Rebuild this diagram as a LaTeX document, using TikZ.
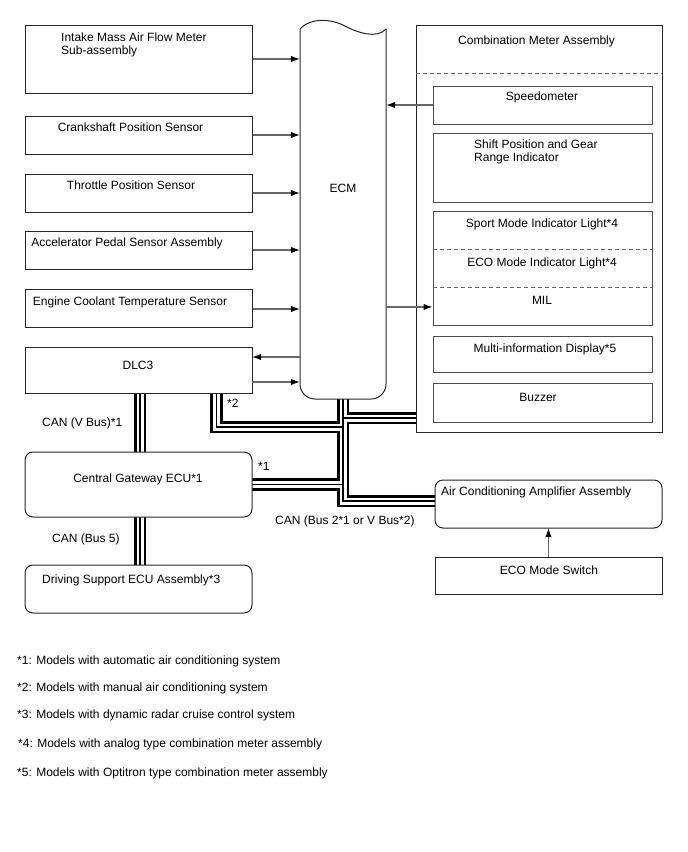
\documentclass[tikz,border=0pt]{standalone}
\usepackage{fontspec}
\setmainfont{Liberation Sans}
\usetikzlibrary{arrows.meta}
\newcommand\buslines[1]{%
  \draw[#1] ([xshift=1.5pt]dlc.south) -- ([xshift=1.5pt]dlc.south |- gw.north);
  \draw[#1] ([xshift=1.5pt]gw.south) -- ([xshift=1.5pt]gw.south |- ds.north);
  \draw[#1] ([xshift=78pt]dlc.south) |- (jdlc);
  \draw[#1] (ecm.south) |- (jac);
  \draw[#1] (gw.east) -- (gw.east -| ecm.south);
  \draw[#1] (jmeter) -- (jmeter -| meter.west);
}
\begin{document}
\begin{tikzpicture}[x=1pt,y=-1pt,
  font=\fontsize{12pt}{14pt}\selectfont,
  box/.style={draw=black!85, line width=1pt, inner sep=0pt, fill=white},
  rbox/.style={box, rounded corners=8pt},
  ibox/.style={draw=black!70, line width=1pt, inner sep=0pt},
  txt/.style={inner sep=0pt, text height=8.6pt, text depth=0pt},
  ltxt/.style={txt, anchor=west},
  arr/.style={draw=black!60, line width=1.1pt, -{Latex[length=9pt,width=6.5pt,color=black]}},
  dsh/.style={draw=black!60, line width=0.9pt, dash pattern=on 4pt off 3pt},
  busA/.style={line width=12.5pt, black, line join=miter},
  busB/.style={line width=7pt, white, line join=miter},
  busC/.style={line width=1.3pt, black, line join=miter}]
\useasboundingbox[fill=white] (0,0) rectangle (688,852);

% invisible anchor nodes
\node[inner sep=0pt, minimum width=86pt, minimum height=371pt] (ecm) at (343,213.5) {};
\node[inner sep=0pt, minimum width=227pt, minimum height=46pt] (dlc) at (138.5,370) {};
\node[inner sep=0pt, minimum width=227pt, minimum height=65pt] (gw) at (138.5,484.5) {};
\node[inner sep=0pt, minimum width=227pt, minimum height=48pt] (ds) at (138.5,589) {};
\node[inner sep=0pt, minimum width=246pt, minimum height=407pt] (meter) at (539,228.5) {};
\node[inner sep=0pt, minimum width=227pt, minimum height=48pt] (ac) at (548.5,504) {};
\coordinate (jdlc) at (343,427);
\coordinate (jac) at (435,501);
\coordinate (jmeter) at (343,418);

% bus cables
\buslines{busA}
\buslines{busB}
\buslines{busC}

% left boxes
\node[box, minimum width=227pt, minimum height=68pt] (intake) at (138.5,59) {};
\node[box, minimum width=227pt, minimum height=38pt] (crank) at (138.5,135) {};
\node[box, minimum width=227pt, minimum height=38pt] (throttle) at (138.5,193) {};
\node[box, minimum width=227pt, minimum height=38pt] (accel) at (138.5,250) {};
\node[box, minimum width=227pt, minimum height=38pt] (cool) at (138.5,308) {};
\node[box, minimum width=227pt, minimum height=46pt] at (dlc) {};
\node[rbox, minimum width=227pt, minimum height=65pt] at (gw) {};
\node[rbox, minimum width=227pt, minimum height=48pt] at (ds) {};

\node[ltxt] at (61,37) {Intake Mass Air Flow Meter};
\node[ltxt] at (61,50) {Sub-assembly};
\node[txt] at (130.5,127) {Crankshaft Position Sensor};
\node[txt] at (131,185) {Throttle Position Sensor};
\node[txt] at (127,242) {Accelerator Pedal Sensor Assembly};
\node[txt] at (130,301) {Engine Coolant Temperature Sensor};
\node[txt] at (138,365) {DLC3};
\node[txt] at (138,478) {Central Gateway ECU*1};
\node[ltxt] at (42,579) {Driving Support ECU Assembly*3};

% ECM
\draw[draw=black!85, line width=1pt] (300,29) .. controls (311,17) and (332,19) .. (345,26) .. controls (358,33) and (377,39) .. (386,29);
\draw[draw=black!85, line width=1pt, rounded corners=15pt] (386,29) -- (386,399) -- (300,399) -- (300,29);
\node[txt] at (343,188) {ECM};

% combination meter
\node[box, fill=none, minimum width=246pt, minimum height=407pt] at (meter) {};
\draw[dsh] (meter.west |- 0,73) -- (meter.east |- 0,73);
\node[ltxt] at (458,40) {Combination Meter Assembly};
\node[ibox, minimum width=219pt, minimum height=38pt] (speedo) at (542.5,105) {};
\node[ibox, minimum width=219pt, minimum height=69pt] (shift) at (542.5,167.5) {};
\node[ibox, minimum width=219pt, minimum height=114pt] (sport) at (542.5,268) {};
\node[ibox, minimum width=219pt, minimum height=36pt] (multi) at (542.5,354) {};
\node[ibox, minimum width=219pt, minimum height=39pt] (buzzer) at (542.5,402.5) {};
\draw[dsh] ([yshift=19pt]sport.west) -- ([yshift=19pt]sport.east);
\draw[dsh] ([yshift=-19pt]sport.west) -- ([yshift=-19pt]sport.east);
\node[txt] at (542,96) {Speedometer};
\node[ltxt] at (474,144) {Shift Position and Gear};
\node[ltxt] at (474,157) {Range Indicator};
\node[txt] at (542,223) {Sport Mode Indicator Light*4};
\node[txt] at (542,262) {ECO Mode Indicator Light*4};
\node[txt] at (542,300) {MIL};
\node[txt] at (545,348) {Multi-information Display*5};
\node[txt] at (538,397) {Buzzer};

% AC amplifier & ECO switch
\node[rbox, minimum width=227pt, minimum height=48pt] at (ac) {};
\node[ltxt] at (441,491) {Air Conditioning Amplifier Assembly};
\node[box, minimum width=227pt, minimum height=37pt] (eco) at (548.5,575.5) {};
\node[txt] at (549,570) {ECO Mode Switch};

% arrows
\draw[arr] (intake.east) -- (intake.east -| ecm.west);
\draw[arr] (crank.east) -- (crank.east -| ecm.west);
\draw[arr] (throttle.east) -- (throttle.east -| ecm.west);
\draw[arr] (accel.east) -- (accel.east -| ecm.west);
\draw[arr] ([yshift=-1pt]cool.east) -- ([yshift=-1pt]cool.east -| ecm.west);
\draw[arr] ([yshift=13pt]dlc.east -| ecm.west) -- ([yshift=13pt]dlc.east);
\draw[arr] ([yshift=-12pt]dlc.east) -- ([yshift=-12pt]dlc.east -| ecm.west);
\draw[arr] (speedo.west) -- (speedo.west -| ecm.east);
\draw[arr] ([yshift=-39pt]sport.west -| ecm.east) -- ([yshift=-39pt]sport.west);
\draw[arr] (eco.north) -- (ac.south);

% bus labels
\node[ltxt] at (42,422) {CAN (V Bus)*1};
\node[ltxt] at (227,403) {*2};
\node[ltxt] at (258,466) {*1};
\node[ltxt] at (275,520) {CAN (Bus 2*1 or V Bus*2)};
\node[ltxt] at (52,538) {CAN (Bus 5)};

% footnotes
\node[ltxt] at (17,660) {*1: Models with automatic air conditioning system};
\node[ltxt] at (17,687) {*2: Models with manual air conditioning system};
\node[ltxt] at (17,714) {*3: Models with dynamic radar cruise control system};
\node[ltxt] at (18,743) {*4: Models with analog type combination meter assembly};
\node[ltxt] at (17,772) {*5: Models with Optitron type combination meter assembly};
\end{tikzpicture}
\end{document}
